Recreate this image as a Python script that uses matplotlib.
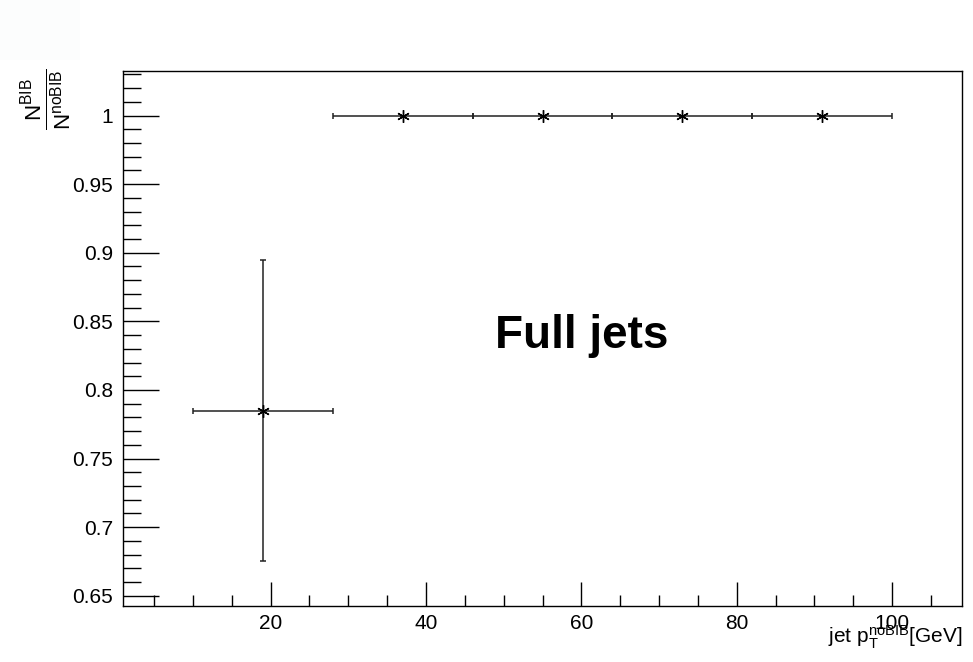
import matplotlib
matplotlib.use("Agg")
import matplotlib.pyplot as plt
from matplotlib.ticker import MultipleLocator
from matplotlib.patches import Rectangle

plt.rcParams['font.family'] = ['Liberation Sans', 'DejaVu Sans']
plt.rcParams['mathtext.fontset'] = 'custom'
plt.rcParams['mathtext.rm'] = 'Liberation Sans'
plt.rcParams['mathtext.it'] = 'Liberation Sans:italic'

# data: ratio N^BIB / N^noBIB per jet pT bin
pt_centers = [19, 37, 55, 73, 91]
pt_halfwidth = [9, 9, 9, 9, 9]
ratio = [0.785, 1.0, 1.0, 1.0, 1.0]
ratio_err = [0.11, 0.0, 0.0, 0.0, 0.0]

fig = plt.figure(figsize=(9.73, 6.62), dpi=100)
fig.patches.append(Rectangle((0, 1 - 60/662), 80/973, 60/662, transform=fig.transFigure,
                             facecolor="#fcfdfd", edgecolor="none"))
ax = fig.add_axes([123/973, 56/662, 839/973, 535/662])

ax.errorbar(pt_centers, ratio, xerr=pt_halfwidth, yerr=ratio_err, fmt="none",
            ecolor="#222222", elinewidth=1.1, capsize=2.5, capthick=1.1)
ax.plot(pt_centers, ratio, linestyle="none", marker=(6, 2, 0), markersize=9,
        color="black", markeredgewidth=1.0)

ax.set_xlim(1, 109)
ax.set_ylim(0.6425, 1.0325)

ax.xaxis.set_major_locator(MultipleLocator(20))
ax.xaxis.set_minor_locator(MultipleLocator(5))
ax.yaxis.set_major_locator(MultipleLocator(0.05))
ax.yaxis.set_minor_locator(MultipleLocator(0.01))
ax.tick_params(which="both", direction="in", top=False, right=False, width=1.0)
ax.tick_params(axis="x", which="major", length=17, labelsize=15, pad=6)
ax.tick_params(axis="x", which="minor", length=8)
ax.tick_params(axis="y", which="major", length=26, labelsize=15, pad=7)
ax.tick_params(axis="y", which="minor", length=13)
ax.set_yticks([0.65, 0.7, 0.75, 0.8, 0.85, 0.9, 0.95, 1.0])
ax.set_yticklabels(["0.65", "0.7", "0.75", "0.8", "0.85", "0.9", "0.95", "1"])

for s in ax.spines.values():
    s.set_linewidth(1.0)

fig.text(582/973, 1 - 348/662, "Full jets", fontsize=33, fontweight="bold",
         ha="center", va="baseline")

fig.text(962/973, 1 - 637/662, r"jet $\mathregular{p_T^{noBIB}}$[GeV]", fontsize=15,
         ha="right", va="center")
fig.text(47/973, 1 - 68/662, r"$\mathregular{\frac{N^{BIB}}{N^{noBIB}}}$", fontsize=23,
         rotation=90, ha="center", va="top")

fig.savefig("out.png", dpi=100)
